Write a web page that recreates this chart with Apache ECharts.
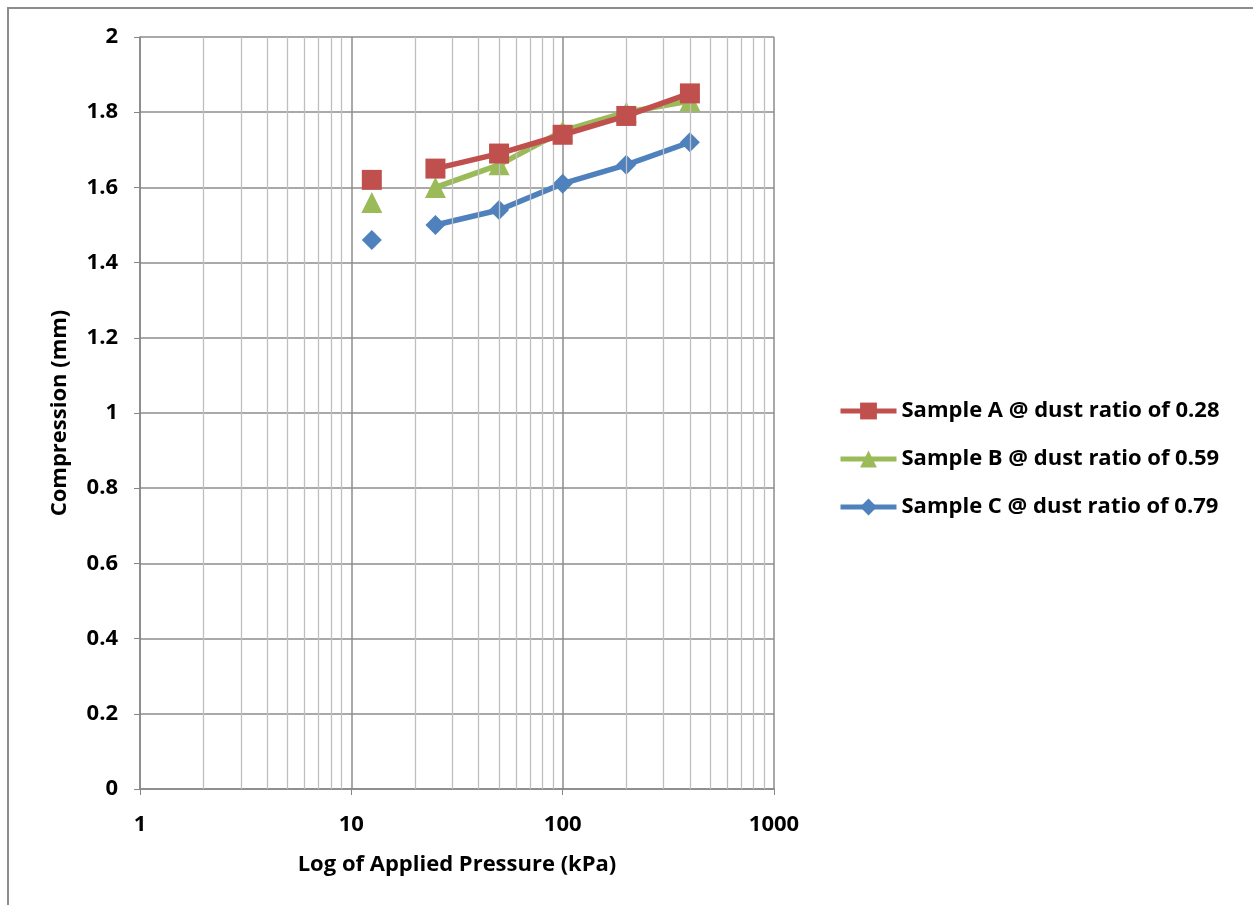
<!DOCTYPE html>
<html>
<head>
<meta charset="utf-8">
<script src="https://cdn.jsdelivr.net/npm/echarts@6/dist/echarts.min.js"></script>
<style>
  html, body { margin: 0; padding: 0; background: #fff; }
  #chart { width: 1253px; height: 905px; }
</style>
</head>
<body>
<div id="chart"></div>
<script>
// Applied pressure steps (kPa)
const pressures = [12.5, 25, 50, 100, 200, 400];

// Compression (mm) for each sample
const sampleA = [1.62, 1.65, 1.69, 1.74, 1.79, 1.85];
const sampleB = [1.56, 1.60, 1.66, 1.75, 1.80, 1.83];
const sampleC = [1.46, 1.50, 1.54, 1.61, 1.66, 1.72];

const seriesNames = [
  'Sample A @ dust ratio of 0.28',
  'Sample B @ dust ratio of 0.59',
  'Sample C @ dust ratio of 0.79'
];

// Minor log gridlines between decades
const minorGrid = [2, 3, 4, 5, 6, 7, 8, 9, 20, 30, 40, 50, 60, 70, 80, 90,
                   200, 300, 400, 500, 600, 700, 800, 900];

const FONT = '"Open Sans", Lato, sans-serif';

// The first reading stands apart from the connected curve
function buildData(values) {
  const out = [];
  pressures.forEach((p, i) => {
    out.push([p, values[i]]);
    if (i === 0) out.push(['-', '-']);
  });
  return out;
}

const colors = ['#C0504D', '#9BBB59', '#4F81BD'];
const symbols = ['rect', 'triangle', 'diamond'];
const symbolSizes = [20, 21, 20];

const series = [sampleA, sampleB, sampleC].map((vals, i) => ({
  name: seriesNames[i],
  type: 'line',
  data: buildData(vals),
  connectNulls: false,
  symbol: symbols[i],
  symbolSize: symbolSizes[i],
  showAllSymbol: true,
  itemStyle: { color: colors[i] },
  lineStyle: { color: colors[i], width: 5.5 },
  z: 3 + (2 - i)
}));

// Minor vertical gridlines placed through the log axis itself
series.push({
  type: 'line',
  data: [],
  silent: true,
  z: 1,
  markLine: {
    silent: true,
    symbol: ['none', 'none'],
    label: { show: false },
    lineStyle: { color: '#bfbfbf', width: 1.3, type: 'solid' },
    data: minorGrid.map(v => ({ xAxis: v }))
  }
});

const labelStyle = { fontFamily: FONT, fontWeight: 'bold', fontSize: 22, color: '#000' };

const chart = echarts.init(document.getElementById('chart'));
chart.setOption({
  animation: false,
  backgroundColor: '#fff',
  graphic: [{
    type: 'rect',
    shape: { x: 8, y: 8, width: 1400, height: 1000 },
    style: { fill: 'none', stroke: '#8c8c8c', lineWidth: 2 },
    silent: true
  }],
  grid: { left: 140, top: 37, right: 479, bottom: 116, containLabel: false },
  legend: {
    orient: 'vertical',
    left: 838,
    top: 400,
    padding: 0,
    itemWidth: 56,
    itemHeight: 21,
    itemGap: 26,
    data: seriesNames,
    lineStyle: { width: 5 },
    textStyle: labelStyle
  },
  xAxis: {
    type: 'log',
    logBase: 10,
    min: 1,
    max: 1000,
    name: 'Log of Applied Pressure (kPa)',
    nameLocation: 'middle',
    nameGap: 65,
    nameTextStyle: labelStyle,
    axisLine: { lineStyle: { color: '#868686', width: 1.5 } },
    axisTick: { show: true, length: 6, inside: false, lineStyle: { color: '#868686' } },
    axisLabel: Object.assign({ margin: 25, formatter: v => String(v) }, labelStyle),
    splitLine: { show: true, lineStyle: { color: '#8c8c8c', width: 1.5 } },
    minorTick: { show: false },
    minorSplitLine: { show: false }
  },
  yAxis: {
    type: 'value',
    min: 0,
    max: 2,
    interval: 0.2,
    name: 'Compression (mm)',
    nameLocation: 'middle',
    nameRotate: 90,
    nameGap: 69,
    nameTextStyle: labelStyle,
    axisLine: { show: true, lineStyle: { color: '#868686', width: 1.5 } },
    axisTick: { show: true, length: 6, inside: false, lineStyle: { color: '#868686' } },
    axisLabel: Object.assign({
      margin: 22,
      formatter: v => String(Math.round(v * 10) / 10)
    }, labelStyle),
    splitLine: { show: true, lineStyle: { color: '#8c8c8c', width: 1.5 } }
  },
  series: series
});
</script>
</body>
</html>
